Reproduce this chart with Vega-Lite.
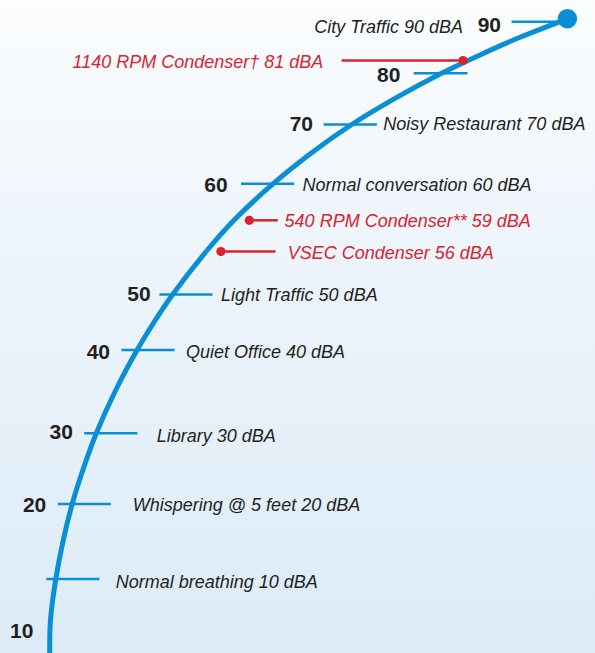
{
  "$schema": "https://vega.github.io/schema/vega-lite/v6.json",
  "width": 595,
  "height": 653,
  "autosize": {"type": "fit", "contains": "padding"},
  "padding": 0,
  "background": "#ffffff",
  "config": {"view": {"stroke": null}},
  "datasets": {
    "curve": [
      {"x": 49.7, "y": 653}, {"x": 50.5, "y": 620}, {"x": 55.8, "y": 579}, {"x": 63.3, "y": 540},
      {"x": 72.2, "y": 504}, {"x": 82.9, "y": 470}, {"x": 96.4, "y": 433}, {"x": 115.8, "y": 390},
      {"x": 137.1, "y": 350}, {"x": 154.1, "y": 322}, {"x": 172.7, "y": 294.5}, {"x": 207.4, "y": 250}, {"x": 234.2, "y": 220},
      {"x": 273.2, "y": 183.7}, {"x": 312, "y": 152.5}, {"x": 351, "y": 125}, {"x": 395, "y": 98.4},
      {"x": 440, "y": 74}, {"x": 480, "y": 54.9}, {"x": 520, "y": 37.3}, {"x": 567.4, "y": 18.8}
    ],
    "top": [{"dBA": 90, "x": 567.4, "y": 18.7}],
    "ticks": [
      {"dBA": 90, "x": 511.6, "x2": 561, "y": 21.7},
      {"dBA": 80, "x": 413.7, "x2": 467.6, "y": 73.3},
      {"dBA": 70, "x": 323.7, "x2": 376.9, "y": 124.5},
      {"dBA": 60, "x": 241, "x2": 294.1, "y": 183.7},
      {"dBA": 50, "x": 159.4, "x2": 212.5, "y": 294.5},
      {"dBA": 40, "x": 121.4, "x2": 174.6, "y": 349.9},
      {"dBA": 30, "x": 84.2, "x2": 137.4, "y": 433.2},
      {"dBA": 20, "x": 57.7, "x2": 110.8, "y": 504},
      {"dBA": 10, "x": 46.3, "x2": 99.4, "y": 579}
    ],
    "levels": [
      {"text": "90", "x": 501, "y": 31.7},
      {"text": "80", "x": 400.4, "y": 82},
      {"text": "70", "x": 313, "y": 131},
      {"text": "60", "x": 227.7, "y": 191.7},
      {"text": "50", "x": 150.7, "y": 300.7},
      {"text": "40", "x": 110, "y": 359},
      {"text": "30", "x": 72.9, "y": 439},
      {"text": "20", "x": 46.3, "y": 512},
      {"text": "10", "x": 33.4, "y": 638}
    ],
    "sources": [
      {"text": "City Traffic 90 dBA", "side": "left", "x": 463, "y": 32.5},
      {"text": "Noisy Restaurant 70 dBA", "side": "right", "x": 383.3, "y": 130},
      {"text": "Normal conversation 60 dBA", "side": "right", "x": 302.5, "y": 190.7},
      {"text": "Light Traffic 50 dBA", "side": "right", "x": 220.9, "y": 301},
      {"text": "Quiet Office 40 dBA", "side": "right", "x": 186, "y": 357.5},
      {"text": "Library 30 dBA", "side": "right", "x": 156.7, "y": 442},
      {"text": "Whispering @ 5 feet 20 dBA", "side": "right", "x": 132.8, "y": 510.7},
      {"text": "Normal breathing 10 dBA", "side": "right", "x": 115.7, "y": 588.3}
    ],
    "condensers": [
      {"text": "1140 RPM Condenser† 81 dBA", "side": "left", "dotX": 463, "lineX": 341.6, "y": 60.5, "labelX": 323.3, "labelY": 67.5},
      {"text": "540 RPM Condenser** 59 dBA", "side": "right", "dotX": 249.3, "lineX": 277.8, "y": 220.3, "labelX": 284.6, "labelY": 226.7},
      {"text": "VSEC Condenser 56 dBA", "side": "right", "dotX": 220.9, "lineX": 275.5, "y": 251.6, "labelX": 287.7, "labelY": 258.5}
    ]
  },
  "layer": [
    {
      "data": {"values": [{}]},
      "mark": {"type": "rect", "color": {"gradient": "linear", "x1": 0, "y1": 0, "x2": 0, "y2": 1,
        "stops": [{"offset": 0, "color": "#fbfdfe"}, {"offset": 0.35, "color": "#eef5fb"}, {"offset": 1, "color": "#dcebf7"}]}},
      "encoding": {}
    },
    {
      "data": {"name": "ticks"},
      "mark": {"type": "rule", "color": "#0a8fd4", "strokeWidth": 2.5},
      "encoding": {
        "x": {"field": "x", "type": "quantitative", "scale": {"domain": [0, 595]}, "axis": null},
        "x2": {"field": "x2"},
        "y": {"field": "y", "type": "quantitative", "scale": {"domain": [0, 653], "reverse": true}, "axis": null}
      }
    },
    {
      "data": {"name": "condensers"},
      "mark": {"type": "rule", "color": "#d9232f", "strokeWidth": 2.5},
      "encoding": {
        "x": {"field": "dotX", "type": "quantitative", "scale": {"domain": [0, 595]}, "axis": null},
        "x2": {"field": "lineX"},
        "y": {"field": "y", "type": "quantitative", "scale": {"domain": [0, 653], "reverse": true}, "axis": null}
      }
    },
    {
      "data": {"name": "curve"},
      "mark": {"type": "line", "color": "#0a8fd4", "strokeWidth": 5, "interpolate": "catmull-rom", "clip": true},
      "encoding": {
        "x": {"field": "x", "type": "quantitative", "scale": {"domain": [0, 595]}, "axis": null},
        "y": {"field": "y", "type": "quantitative", "scale": {"domain": [0, 653], "reverse": true}, "axis": null}
      }
    },
    {
      "data": {"name": "top"},
      "mark": {"type": "point", "shape": "circle", "filled": true, "opacity": 1, "color": "#0a8fd4", "size": 380},
      "encoding": {
        "x": {"field": "x", "type": "quantitative", "scale": {"domain": [0, 595]}, "axis": null},
        "y": {"field": "y", "type": "quantitative", "scale": {"domain": [0, 653], "reverse": true}, "axis": null}
      }
    },
    {
      "data": {"name": "condensers"},
      "mark": {"type": "point", "shape": "circle", "filled": true, "opacity": 1, "color": "#d9232f", "size": 85},
      "encoding": {
        "x": {"field": "dotX", "type": "quantitative", "scale": {"domain": [0, 595]}, "axis": null},
        "y": {"field": "y", "type": "quantitative", "scale": {"domain": [0, 653], "reverse": true}, "axis": null}
      }
    },
    {
      "data": {"name": "levels"},
      "mark": {"type": "text", "align": "right", "baseline": "alphabetic", "font": "Liberation Sans", "fontWeight": "bold", "fontSize": 21, "color": "#231f20"},
      "encoding": {
        "x": {"field": "x", "type": "quantitative", "scale": {"domain": [0, 595]}, "axis": null},
        "y": {"field": "y", "type": "quantitative", "scale": {"domain": [0, 653], "reverse": true}, "axis": null},
        "text": {"field": "text"}
      }
    },
    {
      "data": {"name": "sources"},
      "transform": [{"filter": "datum.side === 'right'"}],
      "mark": {"type": "text", "align": "left", "baseline": "alphabetic", "font": "Liberation Sans", "fontStyle": "italic", "fontSize": 18, "color": "#231f20"},
      "encoding": {
        "x": {"field": "x", "type": "quantitative", "scale": {"domain": [0, 595]}, "axis": null},
        "y": {"field": "y", "type": "quantitative", "scale": {"domain": [0, 653], "reverse": true}, "axis": null},
        "text": {"field": "text"}
      }
    },
    {
      "data": {"name": "sources"},
      "transform": [{"filter": "datum.side === 'left'"}],
      "mark": {"type": "text", "align": "right", "baseline": "alphabetic", "font": "Liberation Sans", "fontStyle": "italic", "fontSize": 18, "color": "#231f20"},
      "encoding": {
        "x": {"field": "x", "type": "quantitative", "scale": {"domain": [0, 595]}, "axis": null},
        "y": {"field": "y", "type": "quantitative", "scale": {"domain": [0, 653], "reverse": true}, "axis": null},
        "text": {"field": "text"}
      }
    },
    {
      "data": {"name": "condensers"},
      "transform": [{"filter": "datum.side === 'right'"}],
      "mark": {"type": "text", "align": "left", "baseline": "alphabetic", "font": "Liberation Sans", "fontStyle": "italic", "fontSize": 18, "color": "#d9232f"},
      "encoding": {
        "x": {"field": "labelX", "type": "quantitative", "scale": {"domain": [0, 595]}, "axis": null},
        "y": {"field": "labelY", "type": "quantitative", "scale": {"domain": [0, 653], "reverse": true}, "axis": null},
        "text": {"field": "text"}
      }
    },
    {
      "data": {"name": "condensers"},
      "transform": [{"filter": "datum.side === 'left'"}],
      "mark": {"type": "text", "align": "right", "baseline": "alphabetic", "font": "Liberation Sans", "fontStyle": "italic", "fontSize": 18, "color": "#d9232f"},
      "encoding": {
        "x": {"field": "labelX", "type": "quantitative", "scale": {"domain": [0, 595]}, "axis": null},
        "y": {"field": "labelY", "type": "quantitative", "scale": {"domain": [0, 653], "reverse": true}, "axis": null},
        "text": {"field": "text"}
      }
    }
  ]
}
